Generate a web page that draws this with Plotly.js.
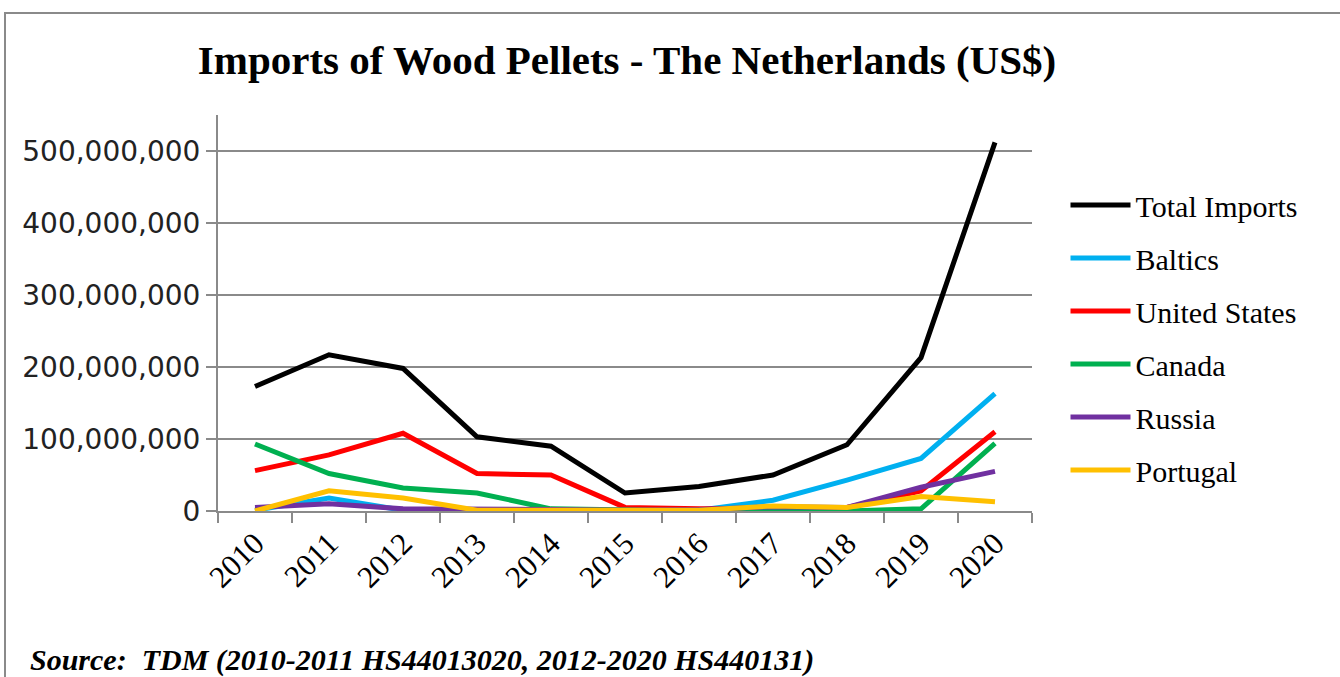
<!DOCTYPE html>
<html>
<head>
<meta charset="utf-8">
<script src="https://cdn.plot.ly/plotly-3.0.1.min.js"></script>
<style>
  html, body { margin: 0; padding: 0; background: #fff; }
  #wrap { position: relative; width: 1340px; height: 677px; overflow: hidden; }
  #chart { position: absolute; left: 0; top: 0; width: 1340px; height: 677px; }
  #frame { position: absolute; left: 4px; top: 12px; width: 1340px; height: 700px;
           border-top: 2px solid #8a8a8a; border-left: 2px solid #8a8a8a; pointer-events: none; }
</style>
</head>
<body>
<div id="wrap">
  <div id="chart"></div>
  <div id="frame"></div>
</div>
<script>
const years = ['2010','2011','2012','2013','2014','2015','2016','2017','2018','2019','2020'];
const totalImports = [173e6, 217e6, 198e6, 103e6, 90e6, 25e6, 34e6, 50e6, 92e6, 213e6, 512e6];
const baltics      = [1e6, 18e6, 1e6, 0, 0, 0, 1e6, 15e6, 43e6, 73e6, 163e6];
const unitedStates = [56e6, 78e6, 108e6, 52e6, 50e6, 5e6, 3e6, 3e6, 5e6, 28e6, 110e6];
const canada       = [93e6, 52e6, 32e6, 25e6, 3e6, 1e6, 0, 0, 0, 3e6, 94e6];
const russia       = [5e6, 10e6, 3e6, 3e6, 2e6, 1e6, 2e6, 6e6, 5e6, 33e6, 55e6];
const portugal     = [0, 28e6, 18e6, 1e6, 1e6, 1e6, 1e6, 7e6, 5e6, 20e6, 13e6];

const seriesNames  = ['Total Imports','Baltics','United States','Canada','Russia','Portugal'];
const seriesValues = [totalImports, baltics, unitedStates, canada, russia, portugal];
const seriesColors = ['#000000','#00B0F0','#FF0000','#00B050','#7030A0','#FFC000'];

const serif = '"Liberation Serif", "DejaVu Serif", serif';
const sans = '"DejaVu Sans", "Liberation Sans", sans-serif';

const traces = seriesNames.map((name, i) => ({
  type: 'scatter',
  mode: 'lines',
  name: name,
  x: years,
  y: seriesValues[i],
  legendgroup: 'g' + i,
  line: { color: seriesColors[i], width: 5 },
  hoverinfo: 'x+y+name'
}));

const layout = {
  width: 1340,
  height: 677,
  paper_bgcolor: '#ffffff',
  plot_bgcolor: '#ffffff',
  margin: { l: 218, r: 308, t: 115, b: 166 },
  title: {
    text: '<b>Imports of Wood Pellets - The Netherlands (US$)</b>',
    font: { family: serif, size: 41, color: '#000' },
    xref: 'container', yref: 'container',
    x: 627 / 1340, xanchor: 'center',
    y: 1 - 60 / 677, yanchor: 'middle'
  },
  xaxis: {
    type: 'category',
    range: [-0.5, 10.5],
    showgrid: false,
    showline: true,
    linecolor: '#8a8a8a',
    linewidth: 2,
    ticks: 'outside',
    tickson: 'boundaries',
    ticklen: 10,
    tickwidth: 2,
    tickcolor: '#8a8a8a',
    tickangle: -45,
    tickfont: { family: serif, size: 31, color: '#000' },
    zeroline: false,
    fixedrange: true
  },
  yaxis: {
    range: [0, 550e6],
    tickvals: [0, 100e6, 200e6, 300e6, 400e6, 500e6],
    tickformat: ',d',
    showgrid: true,
    gridcolor: '#8a8a8a',
    gridwidth: 2,
    showline: true,
    linecolor: '#8a8a8a',
    linewidth: 2,
    ticks: 'outside',
    ticklen: 10,
    tickwidth: 2,
    tickcolor: '#8a8a8a',
    tickfont: { family: sans, size: 28, color: '#222' },
    zeroline: false,
    fixedrange: true
  },
  showlegend: true,
  legend: {
    x: 1032 / 1340 + 0.025, xref: 'container',
    y: 1 - 179 / 677, yref: 'container',
    xanchor: 'left', yanchor: 'top',
    font: { family: serif, size: 30, color: '#000' },
    tracegroupgap: 11,
    itemwidth: 60,
    bgcolor: 'rgba(0,0,0,0)'
  },
  annotations: [{
    text: '<b><i>Source:  TDM (2010-2011 HS44013020, 2012-2020 HS440131)</i></b>',
    xref: 'paper', yref: 'paper',
    x: (28 - 218) / 814, y: (511 - 660) / 396,
    xanchor: 'left', yanchor: 'middle',
    showarrow: false,
    font: { family: serif, size: 30, color: '#000' }
  }]
};

Plotly.newPlot('chart', traces, layout, { staticPlot: true, displayModeBar: false });
</script>
</body>
</html>
